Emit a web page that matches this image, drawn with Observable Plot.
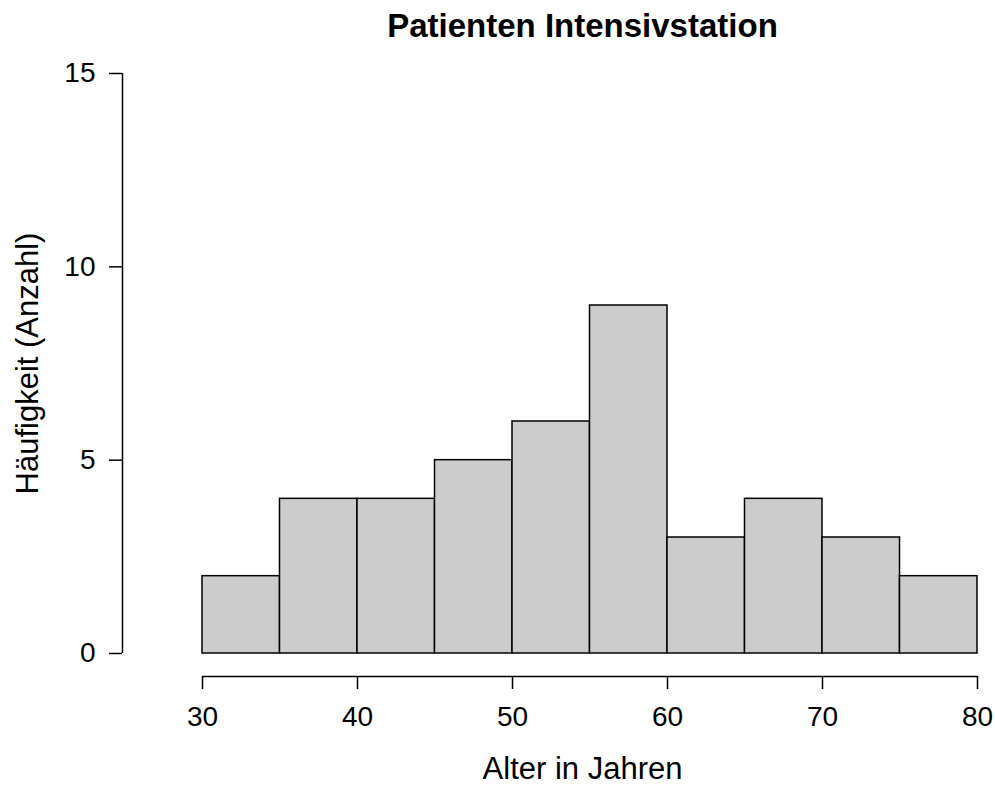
<!DOCTYPE html>
<html>
<head>
<meta charset="utf-8">
<script src="https://cdn.jsdelivr.net/npm/d3@7"></script>
<script src="https://cdn.jsdelivr.net/npm/@observablehq/plot@0.6"></script>
<style>
  html, body { margin: 0; padding: 0; background: #fff; }
  svg { font-family: "Liberation Sans", Arial, sans-serif; }
</style>
</head>
<body>
<div id="chart"></div>
<script>
const binStart = [30, 35, 40, 45, 50, 55, 60, 65, 70, 75];
const binEnd   = [35, 40, 45, 50, 55, 60, 65, 70, 75, 80];
const counts   = [2, 4, 4, 5, 6, 9, 3, 4, 3, 2];
const xTicks = [30, 40, 50, 60, 70, 80];
const yTicks = [0, 5, 10, 15];
const title = "Patienten Intensivstation";
const xLabel = "Alter in Jahren";
const yLabel = "Häufigkeit (Anzahl)";

const bins = binStart.map((s, i) => ({x1: s, x2: binEnd[i], count: counts[i]}));

const chart = Plot.plot({
  width: 995,
  height: 787,
  marginLeft: 202,
  marginRight: 18,
  marginTop: 73,
  marginBottom: 134,
  style: {fontFamily: '"Liberation Sans", Arial, sans-serif', background: "#fff", color: "#000"},
  x: {domain: [30, 80]},
  y: {domain: [0, 15]},
  marks: [
    Plot.rect(bins, {x1: "x1", x2: "x2", y1: 0, y2: "count", fill: "#cccccc", stroke: "#000", strokeWidth: 1.5, inset: 0}),
    Plot.ruleY([0], {x1: 30, x2: 80, dy: 23, stroke: "#000", strokeWidth: 1.5}),
    Plot.ruleX([30], {y1: 0, y2: 15, dx: -80, stroke: "#000", strokeWidth: 1.5}),
    Plot.axisX({ticks: xTicks, tickSize: 13, tickPadding: 17, dy: 23, fontSize: 28, label: null, tickFormat: d => String(d), strokeWidth: 1.5, stroke: "#000", fill: "#000"}),
    Plot.axisY({ticks: yTicks, tickSize: 13, tickPadding: 14, dx: -80, fontSize: 28, label: null, tickFormat: d => String(d), strokeWidth: 1.5, stroke: "#000", fill: "#000"}),
    Plot.text([title], {frameAnchor: "top", dx: -7.5, dy: -46.6, lineAnchor: "middle", textAnchor: "middle", fontSize: 33, fontWeight: "bold", fill: "#000"}),
    Plot.text([xLabel], {frameAnchor: "bottom", dx: -7.5, dy: 116, lineAnchor: "middle", textAnchor: "middle", fontSize: 31, fill: "#000"}),
    Plot.text([yLabel], {frameAnchor: "left", dx: -174, rotate: -90, lineAnchor: "middle", textAnchor: "middle", fontSize: 31, fill: "#000"})
  ]
});
document.getElementById("chart").appendChild(chart);
</script>
</body>
</html>
